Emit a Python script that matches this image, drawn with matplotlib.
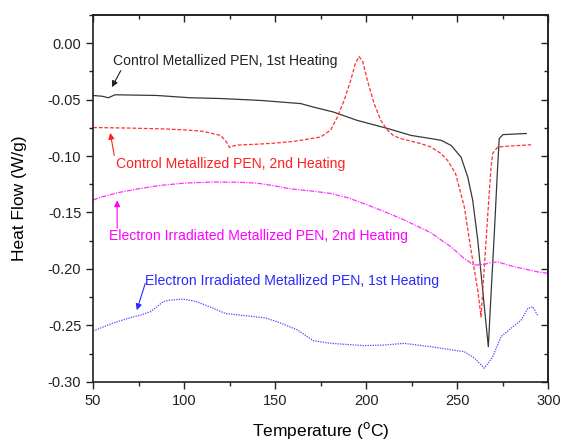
import matplotlib
matplotlib.use("Agg")
from matplotlib import pyplot as plt
from matplotlib.ticker import MultipleLocator, FormatStrFormatter, NullFormatter

plt.rcParams['font.family'] = ['Liberation Sans', 'DejaVu Sans']

# Control Metallized PEN, 1st heating
t_ctrl1 = [50, 55, 58.4, 62, 85, 103, 120, 142, 164, 171, 182, 195, 211.6, 224.5, 235.5,
           241, 246.5, 252, 255.7, 258.4, 261.2, 263.9, 267, 268.3, 270.3, 272.1, 273,
           275, 287.8]
hf_ctrl1 = [-0.0463, -0.047, -0.0483, -0.0457, -0.0463, -0.0483, -0.049, -0.0507, -0.0535,
            -0.0566, -0.061, -0.0684, -0.0755, -0.0817, -0.0845,
            -0.086, -0.0905, -0.1009, -0.1186, -0.139, -0.1746, -0.219, -0.269, -0.228,
            -0.168, -0.1097, -0.0845, -0.081, -0.080]

# Control Metallized PEN, 2nd heating
t_ctrl2 = [50, 70, 90, 100, 110, 120, 123, 125, 127, 130, 140, 150, 160, 164, 171, 175,
           180.4, 184.1, 187.8, 191.4, 194, 196, 198, 200.6, 204.3, 208, 211.6, 215, 219,
           230, 235.5, 241, 244.7, 249, 253.8, 257.5, 261.2, 263, 264.8, 266.6, 268.5,
           269.4, 272.1, 280, 290.5]
hf_ctrl2 = [-0.0747, -0.0752, -0.076, -0.0768, -0.078, -0.0817, -0.087, -0.0925, -0.091,
            -0.0902, -0.0895, -0.0885, -0.087, -0.086, -0.0842, -0.083,
            -0.077, -0.0655, -0.0507, -0.033, -0.018, -0.0118, -0.016, -0.033, -0.0535,
            -0.0685, -0.077, -0.082, -0.0845,
            -0.089, -0.092, -0.0977, -0.104, -0.1155, -0.145, -0.1835, -0.219, -0.2425,
            -0.198, -0.154, -0.1097, -0.0977, -0.092, -0.091, -0.090]

# Electron irradiated, 2nd heating
t_irr2 = [50, 54, 60, 65, 75, 87, 100, 116, 130, 140, 150, 158, 170, 180, 190, 200, 208,
          220, 235.5, 246.5, 253.6, 259, 264.8, 268, 272, 281, 294, 300]
hf_irr2 = [-0.139, -0.1365, -0.134, -0.132, -0.129, -0.126, -0.124, -0.123, -0.1232,
           -0.124, -0.1265, -0.129, -0.131, -0.133, -0.137, -0.143, -0.148,
           -0.156, -0.168, -0.1805, -0.1906, -0.1967, -0.196, -0.1945, -0.1938, -0.198,
           -0.2026, -0.204]

# Electron irradiated, 1st heating
t_irr1 = [50, 61, 72, 76, 81.4, 85, 88.5, 92, 99.5, 106, 114, 122.6, 131, 144.7, 153, 162,
          171, 180.5, 198.6, 210, 220.6, 235.5, 253.8, 259.3, 264.8, 269.4, 274, 279.5,
          285, 288.7, 291.4, 294]
hf_irr1 = [-0.255, -0.248, -0.2425, -0.241, -0.238, -0.2336, -0.229, -0.2277, -0.2268,
           -0.2286, -0.2336, -0.2395, -0.241, -0.2435, -0.248, -0.254,
           -0.2637, -0.266, -0.268, -0.2675, -0.266, -0.269, -0.2734, -0.279, -0.288,
           -0.278, -0.260, -0.2527, -0.2454, -0.235, -0.2336, -0.241]

labels = ["Control Metallized PEN, 1st Heating",
          "Control Metallized PEN, 2nd Heating",
          "Electron Irradiated Metallized PEN, 2nd Heating",
          "Electron Irradiated Metallized PEN, 1st Heating"]
colors = ['#222222', '#ff2020', '#ff00ff', '#2a2aff']
# label anchor (left, centre) and arrow tail -> head, in data units
text_pos = [(61, -0.0154), (62.7, -0.1066), (58.8, -0.171), (78.6, -0.2106)]
arrow_tail = [(65.2, -0.0242), (61.6, -0.0994), (63.2, -0.164), (78.6, -0.213)]
arrow_head = [(60.3, -0.0389), (59.4, -0.0795), (63.2, -0.1393), (74, -0.2366)]

fig = plt.figure(figsize=(5.61, 4.42), dpi=100)
ax = fig.add_axes([0.166, 0.1364, 0.8116, 0.8296])

ax.plot(t_ctrl1, hf_ctrl1, color='#383838', lw=0.9)
ax.plot(t_ctrl2, hf_ctrl2, color='#ff3030', lw=0.9, ls=(0, (3, 1.5)))
ax.plot(t_irr2, hf_irr2, color='#ff30ff', lw=0.9, ls=(0, (4, 1, 1, 1)))
ax.plot(t_irr1, hf_irr1, color='#4848ff', lw=0.9, ls=(0, (1, 1)))

for lab, c, tp, tail, head in zip(labels, colors, text_pos, arrow_tail, arrow_head):
    ax.text(tp[0], tp[1], lab, color=c, fontsize=10.1, ha='left', va='center')
    ax.annotate('', xy=head, xytext=tail,
                arrowprops=dict(arrowstyle='-|>', color=c, lw=0.8, mutation_scale=9,
                                shrinkA=0, shrinkB=0))

ax.set_xlim(50, 300)
ax.set_ylim(-0.30, 0.025)
ax.xaxis.set_major_locator(MultipleLocator(50))
ax.xaxis.set_minor_locator(MultipleLocator(25))
ax.yaxis.set_major_locator(MultipleLocator(0.05))
ax.yaxis.set_minor_locator(MultipleLocator(0.025))
ax.yaxis.set_major_formatter(FormatStrFormatter('%.2f'))
# bottom/left ticks point out, top/right ticks point in
ax.tick_params(which='both', direction='out', colors='#222222', labelsize=10.5)
ax.tick_params(which='major', length=5, width=1)
ax.tick_params(which='minor', length=3, width=1)

top = ax.secondary_xaxis('top')
right = ax.secondary_yaxis('right')
top.xaxis.set_major_locator(MultipleLocator(50))
top.xaxis.set_minor_locator(MultipleLocator(25))
top.xaxis.set_major_formatter(NullFormatter())
right.yaxis.set_major_locator(MultipleLocator(0.05))
right.yaxis.set_minor_locator(MultipleLocator(0.025))
right.yaxis.set_major_formatter(NullFormatter())
for sec in (top, right):
    sec.tick_params(which='both', direction='in', colors='#222222')
    sec.tick_params(which='major', length=5, width=1)
    sec.tick_params(which='minor', length=3, width=1)
    for s in sec.spines.values():
        s.set_linewidth(1.2)
        s.set_color('#222222')

for s in ax.spines.values():
    s.set_linewidth(1.2)
    s.set_color('#222222')

ax.set_xlabel(r"Temperature ($^{\mathrm{o}}$C)", fontsize=12.5, labelpad=9)
ax.set_ylabel("Heat Flow (W/g)", fontsize=12.5, labelpad=15)

fig.savefig("out.png", dpi=100)
